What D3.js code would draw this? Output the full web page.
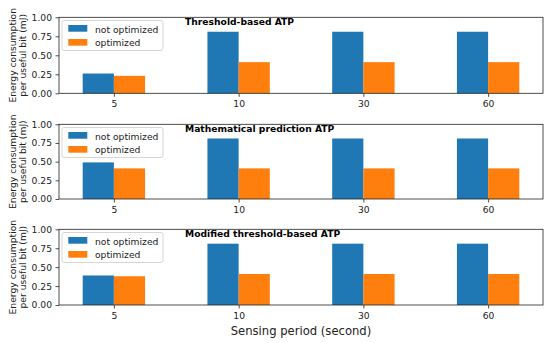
<!DOCTYPE html>
<html><head><meta charset="utf-8">
<script src="https://cdn.jsdelivr.net/npm/d3@7"></script>
<style>body{margin:0;background:#fff}svg{display:block;font-family:"DejaVu Sans",sans-serif}</style>
</head><body><svg id="c" width="550" height="343"></svg>
<script>
const categories = ["5","10","30","60"];
const titles = ["Threshold-based ATP","Mathematical prediction ATP","Modified threshold-based ATP"];
const notOptimized = [
  [0.26,0.81,0.81,0.81],
  [0.49,0.81,0.81,0.81],
  [0.39,0.81,0.81,0.81]
];
const optimized = [
  [0.23,0.41,0.41,0.41],
  [0.41,0.41,0.41,0.41],
  [0.38,0.41,0.41,0.41]
];
const yTicks = [0,0.25,0.5,0.75,1.0];
const seriesNames = ["not optimized","optimized"];
const colors = ["#1f77b4","#ff7f0e"];

const svg = d3.select("#c");
const left = 59, right = 543;
const fs = 9.2;
const panels = [{top:17.3,bottom:93.3},{top:124.3,bottom:199},{top:229.3,bottom:305}];
const x = d3.scaleLinear().domain([-0.44,3.44]).range([left,right]);
const bw = 0.25;

panels.forEach((p,i)=>{
  const y = d3.scaleLinear().domain([0,1]).range([p.bottom,p.top]);
  const g = svg.append("g");
  const data = [notOptimized[i], optimized[i]];
  data.forEach((vals,s)=>{
    g.selectAll(null).data(vals).enter().append("rect")
      .attr("x",(d,k)=>x(k + (s===0 ? -bw : 0)))
      .attr("width",x(bw)-x(0))
      .attr("y",d=>y(d))
      .attr("height",d=>y(0)-y(d))
      .attr("fill",colors[s]);
  });
  g.append("rect").attr("x",left).attr("y",p.top).attr("width",right-left).attr("height",p.bottom-p.top)
    .attr("fill","none").attr("stroke","#222").attr("stroke-width",0.8);
  const ya = d3.axisLeft(y).tickValues(yTicks).tickFormat(d3.format(".2f")).tickSize(3.5).tickPadding(3.5);
  const yg = g.append("g").attr("transform",`translate(${left},0)`).call(ya);
  yg.select(".domain").remove();
  yg.selectAll("text").attr("font-size",fs).attr("fill","#222").attr("font-family","DejaVu Sans");
  yg.selectAll("line").attr("stroke","#222").attr("stroke-width",0.8);
  const xa = d3.axisBottom(x).tickValues([0,1,2,3]).tickFormat(k=>categories[k]).tickSize(3.5).tickPadding(3.5);
  const xg = g.append("g").attr("transform",`translate(0,${p.bottom})`).call(xa);
  xg.select(".domain").remove();
  xg.selectAll("text").attr("font-size",fs).attr("fill","#222").attr("font-family","DejaVu Sans");
  xg.selectAll("line").attr("stroke","#222").attr("stroke-width",0.8);
  g.append("text").attr("x",185).attr("y",p.top+7.8).attr("font-size",fs).attr("font-weight","bold").attr("fill","#000").text(titles[i]);
  // legend
  const lg = g.append("g").attr("transform",`translate(62,${p.top+3.2})`);
  lg.append("rect").attr("width",101).attr("height",30).attr("rx",2).attr("fill","#fff").attr("fill-opacity",0.8).attr("stroke","#ccc").attr("stroke-width",0.8);
  seriesNames.forEach((n,s)=>{
    lg.append("rect").attr("x",6.3).attr("y",4.5+s*14).attr("width",19).attr("height",6.7).attr("fill",colors[s]);
    lg.append("text").attr("x",33).attr("y",12.2+s*13.5).attr("font-size",fs).attr("fill","#222").text(n);
  });
  // y label
  const cy = (p.top+p.bottom)/2;
  const yl = g.append("text").attr("transform",`translate(15.5,${cy}) rotate(-90)`).attr("text-anchor","middle").attr("font-size",fs).attr("fill","#222");
  yl.append("tspan").attr("x",0).attr("dy",0).text("Energy consumption");
  yl.append("tspan").attr("x",0).attr("dy",10).text("per useful bit (mJ)");
});
svg.append("text").attr("x",(left+right)/2).attr("y",335).attr("text-anchor","middle").attr("font-size",11.6).attr("fill","#222").text("Sensing period (second)");
</script></body></html>
